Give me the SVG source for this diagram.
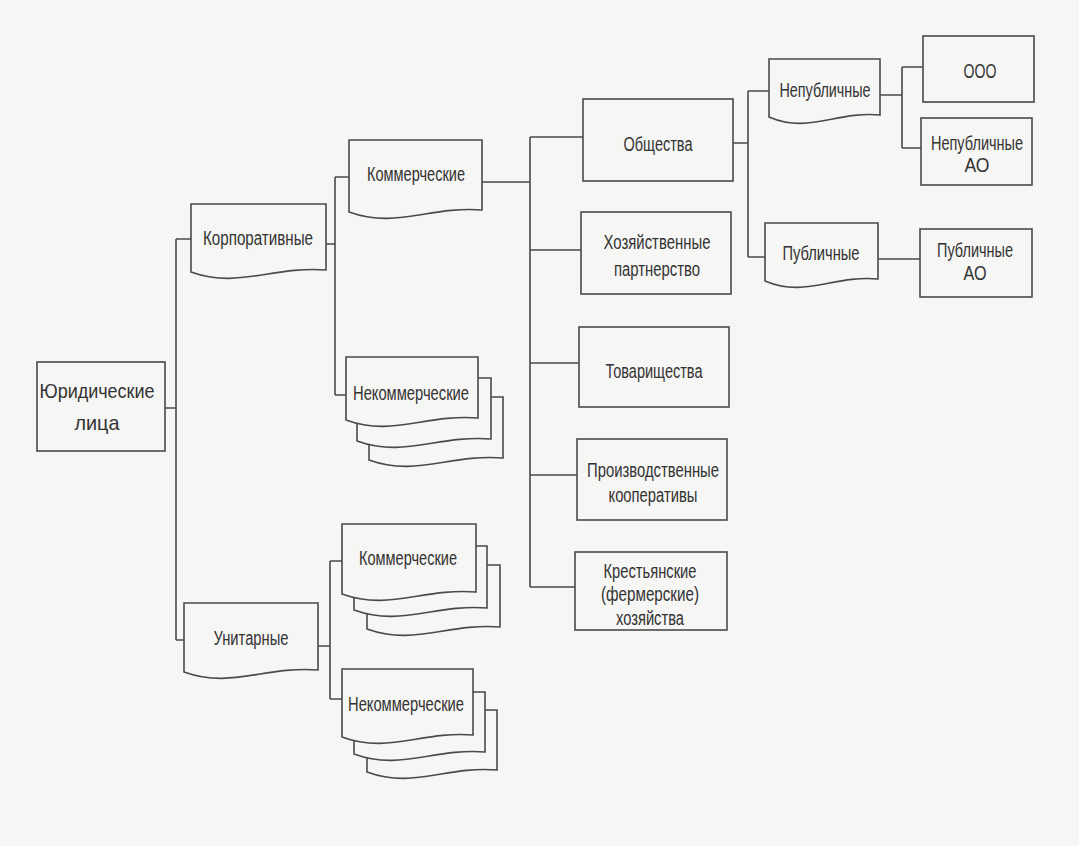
<svg xmlns="http://www.w3.org/2000/svg" width="1079" height="846" viewBox="0 0 1079 846">
<style>
.b{fill:#f6f6f4;stroke:#4a4a4a;stroke-width:1.6}
.c{fill:none;stroke:#4a4a4a;stroke-width:1.6}
text{font-family:"Liberation Sans",Arial,sans-serif;font-size:19.5px;fill:#333;text-anchor:middle}
.lg{font-size:21px}
</style>
<rect width="1079" height="846" fill="#f6f6f4"/>
<g id="connectors" class="c">
<path d="M165,408H176M176,239V640M176,239H191M176,640H184"/>
<path d="M326,244H335M335,177V395M335,177H349M335,395H346"/>
<path d="M482,182H530M530,137V587M530,137H583M530,250H581M530,363H579M530,475H577M530,587H575"/>
<path d="M733,143H748M748,91V257M748,91H769M748,257H765"/>
<path d="M880,95H902M902,67V148M902,67H923M902,148H921"/>
<path d="M878,259H920"/>
<path d="M318,646H330M330,561V699M330,561H342M330,699H342"/>
</g>
<g id="n-yur"><rect class="b" x="37" y="362" width="128" height="89"/><text class="lg" x="97" y="398" textLength="115" lengthAdjust="spacingAndGlyphs">Юридические</text><text class="lg" x="97" y="430" textLength="45" lengthAdjust="spacingAndGlyphs">лица</text></g>
<g id="n-korp"><path class="b" d="M191,204H326V270C272,266 238,289 191,272Z"/><text x="258" y="245" textLength="110" lengthAdjust="spacingAndGlyphs">Корпоративные</text></g>
<g id="n-unit"><path class="b" d="M184,603H318V670C264,666 231,689 184,672Z"/><text x="251" y="645" textLength="75" lengthAdjust="spacingAndGlyphs">Унитарные</text></g>
<g id="n-korp-kom"><path class="b" d="M349,140H482V210C429,206 396,229 349,212Z"/><text x="416" y="181" textLength="98" lengthAdjust="spacingAndGlyphs">Коммерческие</text></g>
<g id="n-korp-nekom">
<path class="b" d="M369,397H503V458C449,454 416,477 369,460Z"/>
<path class="b" d="M357,378H491V439C437,435 404,458 357,441Z"/>
<path class="b" d="M346,357H478V418C425,414 392,437 346,420Z"/>
<text x="411" y="400" textLength="116" lengthAdjust="spacingAndGlyphs">Некоммерческие</text></g>
<g id="n-unit-kom">
<path class="b" d="M367,565H500V627C447,623 414,646 367,629Z"/>
<path class="b" d="M354,546H487V608C434,604 401,627 354,610Z"/>
<path class="b" d="M342,524H476V592C422,588 389,611 342,594Z"/>
<text x="408" y="565" textLength="98" lengthAdjust="spacingAndGlyphs">Коммерческие</text></g>
<g id="n-unit-nekom">
<path class="b" d="M367,710H497V770C445,766 413,789 367,772Z"/>
<path class="b" d="M354,692H485V752C433,748 400,771 354,754Z"/>
<path class="b" d="M342,669H473V735C421,731 388,754 342,737Z"/>
<text x="406" y="711" textLength="116" lengthAdjust="spacingAndGlyphs">Некоммерческие</text></g>
<g id="n-obsh"><rect class="b" x="583" y="99" width="150" height="82"/><text x="658" y="151" textLength="69" lengthAdjust="spacingAndGlyphs">Общества</text></g>
<g id="n-hoz"><rect class="b" x="581" y="212" width="150" height="82"/><text x="657" y="249" textLength="107" lengthAdjust="spacingAndGlyphs">Хозяйственные</text><text x="657" y="276" textLength="86" lengthAdjust="spacingAndGlyphs">партнерство</text></g>
<g id="n-tov"><rect class="b" x="579" y="327" width="150" height="80"/><text x="654" y="378" textLength="97" lengthAdjust="spacingAndGlyphs">Товарищества</text></g>
<g id="n-proizv"><rect class="b" x="577" y="439" width="150" height="81"/><text x="653" y="477" textLength="132" lengthAdjust="spacingAndGlyphs">Производственные</text><text x="653" y="502" textLength="89" lengthAdjust="spacingAndGlyphs">кооперативы</text></g>
<g id="n-krest"><rect class="b" x="575" y="552" width="152" height="78"/><text x="650" y="578" textLength="93" lengthAdjust="spacingAndGlyphs">Крестьянские</text><text x="650" y="601" textLength="98" lengthAdjust="spacingAndGlyphs">(фермерские)</text><text x="650" y="625" textLength="68" lengthAdjust="spacingAndGlyphs">хозяйства</text></g>
<g id="n-nepub"><path class="b" d="M769,59H880V115C836,111 808,134 769,117Z"/><text x="825" y="97" textLength="91" lengthAdjust="spacingAndGlyphs">Непубличные</text></g>
<g id="n-pub"><path class="b" d="M765,223H878V279C833,275 805,298 765,281Z"/><text x="821" y="260" textLength="77" lengthAdjust="spacingAndGlyphs">Публичные</text></g>
<g id="n-ooo"><rect class="b" x="923" y="36" width="111" height="66"/><text x="980" y="78" textLength="33" lengthAdjust="spacingAndGlyphs">ООО</text></g>
<g id="n-nepub-ao"><rect class="b" x="921" y="118" width="111" height="67"/><text x="977" y="150" textLength="92" lengthAdjust="spacingAndGlyphs">Непубличные</text><text x="977" y="172" textLength="25" lengthAdjust="spacingAndGlyphs">АО</text></g>
<g id="n-pub-ao"><rect class="b" x="920" y="229" width="112" height="68"/><text x="975" y="257" textLength="76" lengthAdjust="spacingAndGlyphs">Публичные</text><text x="975" y="280" textLength="23" lengthAdjust="spacingAndGlyphs">АО</text></g>
</svg>
